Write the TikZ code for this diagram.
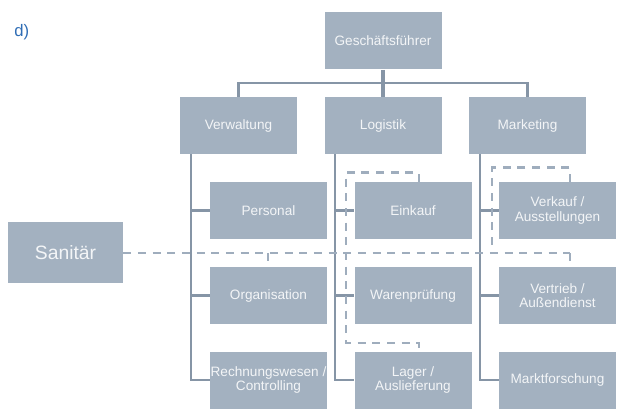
\documentclass[tikz,border=0pt]{standalone}
\usepackage{fontspec}
\setmainfont{Liberation Sans}
\definecolor{boxfill}{HTML}{A3B1C0}
\definecolor{conn}{HTML}{8695A6}
\definecolor{dashc}{HTML}{9FADBD}
\definecolor{txt}{HTML}{F3F5F7}
\definecolor{lbl}{HTML}{2F6DB5}
\tikzset{
  unitbox/.style={fill=boxfill, text=txt, inner sep=0pt, align=center,
    minimum width=87.75pt, minimum height=42.75pt,
    font=\fontsize{10.2}{10.6}\selectfont},
  bigbox/.style={unitbox, minimum width=86.25pt, minimum height=45.75pt,
    font=\fontsize{14.5}{16}\selectfont},
  connline/.style={draw=conn, line width=1.6pt},
  dashline/.style={draw=dashc, line width=1.9pt, dash pattern=on 6pt off 5pt}
}
\begin{document}
\begin{tikzpicture}[x=0.75pt, y=-0.75pt]
\useasboundingbox (0,0) rectangle (631,417);
\node[text=lbl, font=\fontsize{12.5}{14}\selectfont, anchor=west, inner sep=0pt] (lab) at (14,32.5) {d)};
% top
\node[unitbox] (gf) at (383,41) {Geschäftsführer};
\node[unitbox] (verw) at (238.5,125.5) {Verwaltung};
\node[unitbox] (log) at (383,125.5) {Logistik};
\node[unitbox] (mark) at (527.5,125.5) {Marketing};
% Verwaltung children
\node[unitbox] (pers) at (268.5,210.5) {Personal};
\node[unitbox] (org) at (268.5,295.5) {Organisation};
\node[unitbox] (rech) at (268.5,380) {\makebox[0pt]{Rechnungswesen /}\\Controlling};
% Logistik children
\node[unitbox] (eink) at (413,210.5) {Einkauf};
\node[unitbox] (ware) at (413,295.5) {Warenprüfung};
\node[unitbox] (lager) at (413,380) {Lager /\\Auslieferung};
% Marketing children
\node[unitbox] (verk) at (557.5,210.5) {Verkauf /\\Ausstellungen};
\node[unitbox] (vert) at (557.5,295.5) {Vertrieb /\\Außendienst};
\node[unitbox] (mafo) at (557.5,380) {Marktforschung};
% Sanitaer
\node[bigbox] (san) at (65.5,252.5) {Sanitär};

% coordinates
\coordinate (bus) at (0,83);
\coordinate (vx) at (191,0);
\coordinate (lx) at (335,0);
\coordinate (mx) at (480,0);
\coordinate (dl) at (346,0);
\coordinate (dy) at (0,253);
\coordinate (ex) at (419,0);
\coordinate (kx) at (570,0);
\coordinate (ox) at (268,0);
\coordinate (mt) at (492,0);

% solid connectors
\draw[connline] (verw.north) |- (bus -| log.north) -| (mark.north);
\draw[draw=conn, line width=2.4pt] (gf.south) -- (log.north);
\draw[connline] (verw.south -| vx) |- (rech.west);
\draw[connline] (vx |- pers.west) -- (pers.west);
\draw[connline] (vx |- org.west) -- (org.west);
\draw[connline] (log.south -| lx) |- (lager.west);
\draw[connline] (lx |- eink.west) -- (eink.west);
\draw[connline] (lx |- ware.west) -- (ware.west);
\draw[connline] (mark.south -| mx) |- (mafo.west);
\draw[connline] (mx |- verk.west) -- (verk.west);
\draw[connline] (mx |- vert.west) -- (vert.west);

% dashed connectors
\draw[dashline] (san.east |- dy) -- (dy -| kx);
\draw[dashline] (dy -| kx) -- ([yshift=3.75pt]vert.north -| kx);
\draw[dashline] (dy -| ox) -- ([yshift=3.75pt]org.north -| ox);
\draw[dashline] (eink.north -| ex) -- ++(0,-9) -| (dl |- 343,343) -| (lager.north -| ex);
\draw[dashline] (verk.north -| kx) -- ++(0,-14) -| (mt |- 0,245);
\end{tikzpicture}
\end{document}
